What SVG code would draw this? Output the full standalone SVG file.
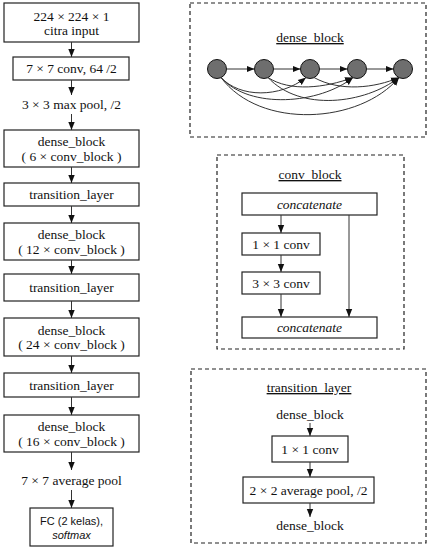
<svg xmlns="http://www.w3.org/2000/svg" width="433" height="550" viewBox="0 0 433 550">
<style>
text{font-family:"Liberation Serif","Times New Roman",serif;font-size:13.5px;fill:#111;text-anchor:middle}
.sans{font-family:"Liberation Sans",Arial,sans-serif;font-size:11px}
.it{font-style:italic}
.ul{text-decoration:underline}
.box{fill:#fff;stroke:#222;stroke-width:1.2}
.panel{fill:none;stroke:#222;stroke-width:1.2;stroke-dasharray:4 3}
.c{stroke:#333;stroke-width:1;fill:none}
.node{fill:#6e6e6e;stroke:#111;stroke-width:1}
</style>
<defs>
<marker id="ah" markerUnits="userSpaceOnUse" markerWidth="8" markerHeight="8" viewBox="0 0 8 8" refX="8" refY="4" orient="auto">
<path d="M0,0.8 L8,4 L0,7.2 Z" fill="#111"/>
</marker>
</defs>

<!-- Left column -->
<g id="input"><rect class="box" x="4" y="3" width="135" height="39"/><text x="71.5" y="20.5">224 × 224 × 1</text><text x="71.5" y="35">citra input</text></g>
<g id="conv7"><rect class="box" x="13" y="57" width="116" height="23"/><text x="71.5" y="73">7 × 7 conv, 64 /2</text></g>
<g id="maxpool"><text x="71.5" y="108.5">3 × 3 max pool, /2</text></g>
<g id="dense1"><rect class="box" x="4" y="130" width="135" height="37"/><text x="71.5" y="146">dense_block</text><text x="71.5" y="160.5">( 6 × conv_block )</text></g>
<g id="trans1"><rect class="box" x="4" y="183" width="135" height="23"/><text x="71.5" y="199">transition_layer</text></g>
<g id="dense2"><rect class="box" x="4" y="223" width="135" height="37"/><text x="71.5" y="239">dense_block</text><text x="71.5" y="253.5">( 12 × conv_block )</text></g>
<g id="trans2"><rect class="box" x="4" y="274" width="135" height="27"/><text x="71.5" y="292">transition_layer</text></g>
<g id="dense3"><rect class="box" x="4" y="318" width="135" height="38"/><text x="71.5" y="334.5">dense_block</text><text x="71.5" y="349">( 24 × conv_block )</text></g>
<g id="trans3"><rect class="box" x="4" y="373" width="135" height="24"/><text x="71.5" y="389.5">transition_layer</text></g>
<g id="dense4"><rect class="box" x="4" y="415" width="135" height="37"/><text x="71.5" y="431">dense_block</text><text x="71.5" y="445.5">( 16 × conv_block )</text></g>
<g id="avgpool"><text x="71.5" y="484.5">7 × 7 average pool</text></g>
<g id="fc"><rect class="box" x="30" y="508" width="83" height="38"/><text class="sans" x="71.5" y="525">FC (2 kelas),</text><text class="sans it" x="71.5" y="539">softmax</text></g>

<!-- Right panels -->
<g id="panel_dense">
<rect class="panel" x="190" y="3" width="236" height="134"/>
<text class="ul" x="310" y="42">dense_block</text>
<circle class="node" cx="217" cy="69" r="9.5"/>
<circle class="node" cx="264" cy="69" r="9.5"/>
<circle class="node" cx="310" cy="69" r="9.5"/>
<circle class="node" cx="357" cy="69" r="9.5"/>
<circle class="node" cx="403" cy="69" r="9.5"/>
</g>

<g id="panel_conv">
<rect class="panel" x="217" y="155" width="187" height="194"/>
<text class="ul" x="310" y="179">conv_block</text>
<g id="cat1"><rect class="box" x="242" y="193" width="135" height="22"/><text class="it" x="309.5" y="208.5">concatenate</text></g>
<g id="c11"><rect class="box" x="242" y="233" width="78" height="22"/><text x="281" y="248.5">1 × 1 conv</text></g>
<g id="c33"><rect class="box" x="242" y="272" width="78" height="22"/><text x="281" y="287.5">3 × 3 conv</text></g>
<g id="cat2"><rect class="box" x="242" y="317" width="135" height="21"/><text class="it" x="309.5" y="332">concatenate</text></g>
</g>

<g id="panel_trans">
<rect class="panel" x="191" y="369" width="235" height="174"/>
<text class="ul" x="309" y="392">transition_layer</text>
<g id="t_in"><text x="310" y="419">dense_block</text></g>
<g id="t_conv"><rect class="box" x="272" y="436" width="76" height="26"/><text x="310" y="453.5">1 × 1 conv</text></g>
<g id="t_pool"><rect class="box" x="243" y="477" width="131" height="26"/><text x="308.5" y="494.5">2 × 2 average pool, /2</text></g>
<g id="t_out"><text x="310" y="530">dense_block</text></g>
</g>

<g id="connectors">
<line class="c" x1="71.5" y1="42" x2="71.5" y2="57" marker-end="url(#ah)"/>
<line class="c" x1="71.5" y1="80" x2="71.5" y2="95" marker-end="url(#ah)"/>
<line class="c" x1="71.5" y1="114" x2="71.5" y2="130" marker-end="url(#ah)"/>
<line class="c" x1="71.5" y1="167" x2="71.5" y2="183" marker-end="url(#ah)"/>
<line class="c" x1="71.5" y1="206" x2="71.5" y2="223" marker-end="url(#ah)"/>
<line class="c" x1="71.5" y1="260" x2="71.5" y2="274" marker-end="url(#ah)"/>
<line class="c" x1="71.5" y1="301" x2="71.5" y2="318" marker-end="url(#ah)"/>
<line class="c" x1="71.5" y1="356" x2="71.5" y2="373" marker-end="url(#ah)"/>
<line class="c" x1="71.5" y1="397" x2="71.5" y2="415" marker-end="url(#ah)"/>
<line class="c" x1="71.5" y1="452" x2="71.5" y2="470" marker-end="url(#ah)"/>
<line class="c" x1="71.5" y1="490" x2="71.5" y2="508" marker-end="url(#ah)"/>

<line class="c" x1="226.5" y1="69" x2="254.5" y2="69" marker-end="url(#ah)"/>
<line class="c" x1="273.5" y1="69" x2="300.5" y2="69" marker-end="url(#ah)"/>
<line class="c" x1="319.5" y1="69" x2="347.5" y2="69" marker-end="url(#ah)"/>
<line class="c" x1="366.5" y1="69" x2="393.5" y2="69" marker-end="url(#ah)"/>

<path class="c" d="M221,77.5 C240,98 280,98 306,77.5" marker-end="url(#ah)"/>
<path class="c" d="M221,77.5 C250,110 320,104 353,77.5" marker-end="url(#ah)"/>
<path class="c" d="M221,77.5 C260,130 360,124 399,77.5" marker-end="url(#ah)"/>
<path class="c" d="M268,77.5 C290,92 325,88 353,77.5" marker-end="url(#ah)"/>
<path class="c" d="M268,77.5 C300,112 365,104 399,77.5" marker-end="url(#ah)"/>
<path class="c" d="M314,77.5 C340,92 375,88 399,77.5" marker-end="url(#ah)"/>

<line class="c" x1="281" y1="215" x2="281" y2="233" marker-end="url(#ah)"/>
<line class="c" x1="281" y1="255" x2="281" y2="272" marker-end="url(#ah)"/>
<line class="c" x1="281" y1="294" x2="281" y2="317" marker-end="url(#ah)"/>
<line class="c" x1="349" y1="215" x2="349" y2="317" marker-end="url(#ah)"/>

<line class="c" x1="310" y1="423" x2="310" y2="436" marker-end="url(#ah)"/>
<line class="c" x1="310" y1="462" x2="310" y2="477" marker-end="url(#ah)"/>
<line class="c" x1="310" y1="503" x2="310" y2="517" marker-end="url(#ah)"/>
</g>
</svg>
